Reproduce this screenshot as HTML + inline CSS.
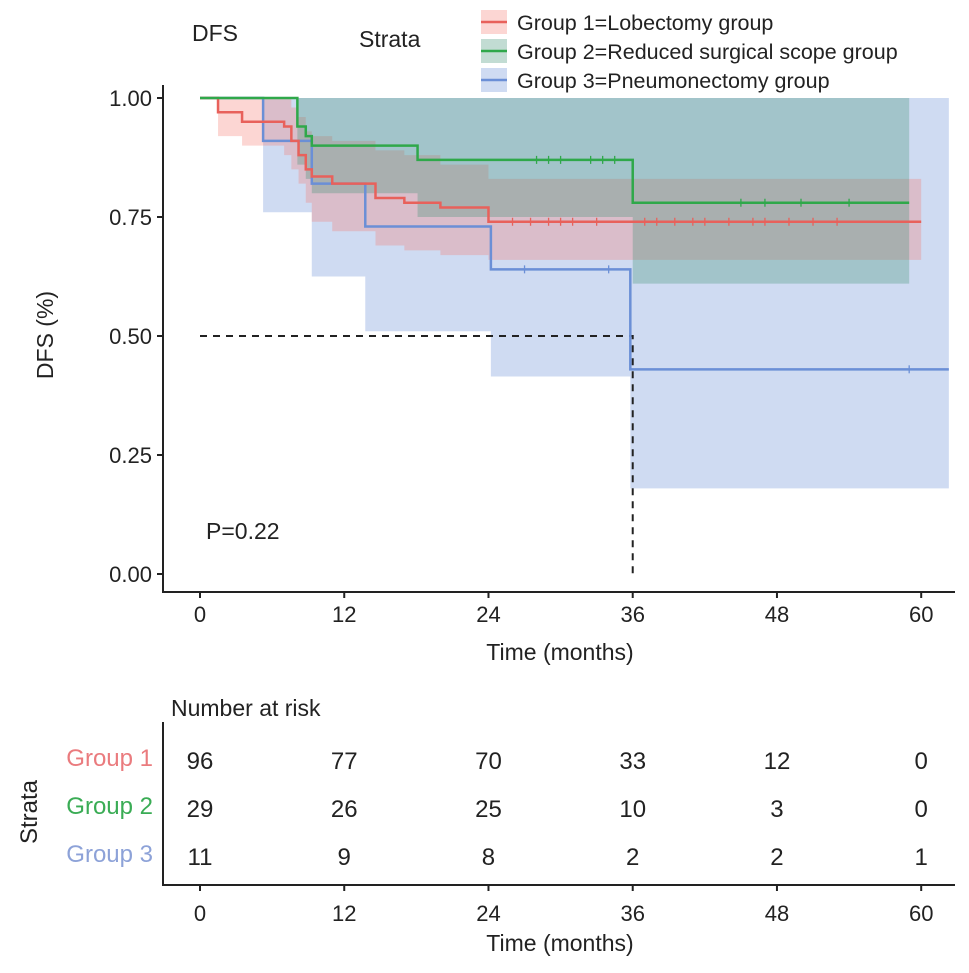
<!DOCTYPE html>
<html><head><meta charset="utf-8"><style>
body{margin:0;background:#fff;}
svg{display:block;font-family:"Liberation Sans",Arial,sans-serif;}
</style></head><body>
<svg id="chart" width="969" height="973" viewBox="0 0 969 973" xmlns="http://www.w3.org/2000/svg">
<g id="ci"></g><g id="lines"></g><g id="cens"></g><g id="axes"></g><g id="tbl"></g>
</svg>
<script>
const timeTicks=[0,12,24,36,48,60];
const survTicks=[0,0.25,0.5,0.75,1];
const survTickLabels=["0.00","0.25","0.50","0.75","1.00"];
const groupNames=["Group 1","Group 2","Group 3"];
const legendLabels=["Group 1=Lobectomy group","Group 2=Reduced surgical scope group","Group 3=Pneumonectomy group"];
const g1Times=[0,1.5,3.5,7,7.6,8.2,8.8,9.3,11,14.6,17,20,24,60];
const g1Surv=[1,0.97,0.95,0.94,0.91,0.88,0.85,0.835,0.82,0.79,0.78,0.77,0.74,0.74];
const g1Lower=[1,0.92,0.9,0.88,0.85,0.82,0.78,0.74,0.72,0.69,0.68,0.67,0.66,0.66];
const g1Upper=[1,1,1,1,0.98,0.96,0.93,0.92,0.91,0.89,0.88,0.86,0.83,0.83];
const g2Times=[0,8.1,8.8,9.3,18.1,36,59];
const g2Surv=[1,0.94,0.92,0.9,0.87,0.78,0.78];
const g2Lower=[1,0.86,0.83,0.8,0.75,0.61,0.61];
const g2Upper=[1,1,1,1,1,1,1];
const g3Times=[0,5.25,9.3,13.75,24.2,35.8,62.3];
const g3Surv=[1,0.91,0.82,0.73,0.64,0.43,0.43];
const g3Lower=[1,0.76,0.625,0.51,0.415,0.18,0.18];
const g3Upper=[1,1,1,1,1,1,1];
const g1Censor=[26,27.5,29,30,31,33,37,38,39.5,41,42,44,46,47,49,51,53];
const g2Censor=[28,29,30,32.5,33.5,34.5,45,47,50,54];
const g3Censor=[27,34,59];
const riskG1=[96,77,70,33,12,0];
const riskG2=[29,26,25,10,3,0];
const riskG3=[11,9,8,2,2,1];
const medianTime=36;

const NS="http://www.w3.org/2000/svg";
const x=t=>200+t*12.02;
const y=s=>574-s*476;
const cols=["#e8615b","#2fa84a","#6b8fd6"];
const labelCols=["#ea7b7e","#3aac55","#8da2d8"];
const fills=["rgba(245,120,110,0.30)","rgba(70,150,120,0.33)","rgba(130,160,220,0.38)"];
function mk(tag,attrs,parent,txt){const e=document.createElementNS(NS,tag);for(const k in attrs)e.setAttribute(k,attrs[k]);if(txt!==undefined)e.textContent=txt;parent.appendChild(e);return e;}
function stepPath(T,S){let d="M"+x(T[0])+","+y(S[0]);for(let i=1;i<T.length;i++){d+=" H"+x(T[i])+" V"+y(S[i]);}return d;}
function bandPath(T,L,U){const pts=[];for(let i=0;i<T.length-1;i++){pts.push([x(T[i]),y(U[i])],[x(T[i+1]),y(U[i])]);}const low=[];for(let i=T.length-2;i>=0;i--){low.push([x(T[i+1]),y(L[i])],[x(T[i]),y(L[i])]);}return "M"+pts.concat(low).map(p=>p.join(",")).join(" L")+" Z";}
const ci=document.getElementById('ci'),ln=document.getElementById('lines'),cn=document.getElementById('cens'),ax=document.getElementById('axes'),tb=document.getElementById('tbl');
const groups=[[g1Times,g1Surv,g1Lower,g1Upper,g1Censor],[g2Times,g2Surv,g2Lower,g2Upper,g2Censor],[g3Times,g3Surv,g3Lower,g3Upper,g3Censor]];
[2,0,1].forEach(gi=>{const [T,S,L,U]=groups[gi];
 const p=mk('path',{d:bandPath(T,L,U),fill:fills[gi]},ci);
 
 });
const mh=mk('path',{d:"M"+x(0)+","+y(0.5)+" H"+x(medianTime)+" V"+y(0),fill:"none",stroke:"#222","stroke-width":2,"stroke-dasharray":"7,6"},ln);


[2,0,1].forEach(gi=>{const [T,S,,,C]=groups[gi];
 const p=mk('path',{d:stepPath(T,S),fill:"none",stroke:cols[gi],"stroke-width":2.5},ln);
 
 
 C.forEach(c=>{let s=S[0];for(let i=0;i<T.length;i++)if(T[i]<=c)s=S[i];
  const t=mk('line',{x1:x(c),x2:x(c),y1:y(s)-4,y2:y(s)+4,stroke:cols[gi],"stroke-width":1.3},cn);
  
  });
});
const a1=mk('path',{d:"M163,85 V592 H955",fill:"none",stroke:"#222","stroke-width":2},ax);

survTicks.forEach((s,i)=>{mk('line',{x1:157,x2:163,y1:y(s),y2:y(s),stroke:"#222","stroke-width":2},ax);
 const t=mk('text',{x:152,y:y(s)+8,"text-anchor":"end","font-size":22,fill:"#222"},ax,survTickLabels[i]);
 });
timeTicks.forEach(tk=>{mk('line',{x1:x(tk),x2:x(tk),y1:592,y2:598,stroke:"#222","stroke-width":2},ax);
 const t=mk('text',{x:x(tk),y:622,"text-anchor":"middle","font-size":22,fill:"#222"},ax,tk);
 });
let e=mk('text',{x:560,y:660,"text-anchor":"middle","font-size":23,fill:"#222"},ax,"Time (months)");
e=mk('text',{x:0,y:0,"text-anchor":"middle","font-size":23,fill:"#222",transform:"translate(53,335) rotate(-90)"},ax,"DFS (%)");
e=mk('text',{x:206,y:539,"font-size":23,fill:"#222"},ax,"P=0.22");
e=mk('text',{x:192,y:41,"font-size":23,fill:"#222"},ax,"DFS");
e=mk('text',{x:359,y:47,"font-size":23,fill:"#222"},ax,"Strata");
legendLabels.forEach((l,i)=>{const ly=22+i*29;
 const g=mk('g',{},ax);
 mk('rect',{x:481,y:ly-12,width:26,height:24,fill:fills[i]},g);
 mk('line',{x1:481,x2:507,y1:ly,y2:ly,stroke:cols[i],"stroke-width":2.5},g);
 mk('text',{x:517,y:ly+8,"font-size":21.5,fill:"#222"},g,l);});
e=mk('text',{x:171,y:716,"font-size":23,fill:"#222"},tb,"Number at risk");
mk('path',{d:"M163,722 V885 H955",fill:"none",stroke:"#222","stroke-width":2},tb);
const risks=[riskG1,riskG2,riskG3];const rowY=[769,817,865];
risks.forEach((r,gi)=>{
 e=mk('text',{x:153,y:rowY[gi]-3,"text-anchor":"end","font-size":24,fill:labelCols[gi]},tb,groupNames[gi]);
 r.forEach((v,i)=>{const t=mk('text',{x:x(timeTicks[i]),y:rowY[gi],"text-anchor":"middle","font-size":24,fill:"#222"},tb,v);
  });});
timeTicks.forEach(tk=>{mk('line',{x1:x(tk),x2:x(tk),y1:885,y2:891,stroke:"#222","stroke-width":2},tb);
 const t=mk('text',{x:x(tk),y:921,"text-anchor":"middle","font-size":22,fill:"#222"},tb,tk);
 });
e=mk('text',{x:560,y:951,"text-anchor":"middle","font-size":23,fill:"#222"},tb,"Time (months)");
e=mk('text',{x:0,y:0,"text-anchor":"middle","font-size":24,fill:"#222",transform:"translate(37,812) rotate(-90)"},tb,"Strata");
</script>
</body></html>
